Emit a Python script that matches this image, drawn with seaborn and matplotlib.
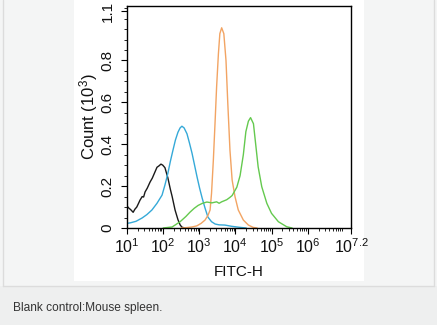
import matplotlib
matplotlib.use("Agg")
import matplotlib.pyplot as plt
from matplotlib.patches import Rectangle
from matplotlib.lines import Line2D
from matplotlib.ticker import FixedLocator, LogLocator, NullFormatter
import numpy as np
import pandas as pd
import seaborn as sns

# FITC-H histogram traces: positions in decades (log10 of intensity), counts in thousands
black_log = [1.00, 1.05, 1.10, 1.17, 1.22, 1.27, 1.32, 1.36, 1.42, 1.46, 1.50, 1.56,
             1.64, 1.70, 1.76, 1.83, 1.88, 1.94, 1.99, 2.05, 2.13, 2.20, 2.25, 2.33,
             2.41, 2.47, 2.52, 2.60, 2.70]
black_cnt = [0.105, 0.095, 0.088, 0.075, 0.090, 0.100, 0.118, 0.133, 0.150, 0.148,
             0.172, 0.190, 0.220, 0.238, 0.262, 0.290, 0.296, 0.305, 0.300, 0.288,
             0.240, 0.185, 0.150, 0.086, 0.040, 0.015, 0.004, 0.0, 0.0]

blue_log = [1.00, 1.10, 1.25, 1.42, 1.55, 1.69, 1.83, 1.97, 2.05, 2.13, 2.20, 2.27,
            2.34, 2.41, 2.47, 2.52, 2.58, 2.66, 2.73, 2.80, 2.87, 2.94, 3.01, 3.08,
            3.16, 3.24, 3.34, 3.44, 3.55, 3.71, 3.90, 4.13, 4.30]
blue_cnt = [0.022, 0.025, 0.032, 0.048, 0.064, 0.086, 0.118, 0.157, 0.205, 0.260,
            0.318, 0.370, 0.420, 0.457, 0.478, 0.486, 0.478, 0.450, 0.405, 0.357,
            0.300, 0.243, 0.190, 0.143, 0.095, 0.052, 0.030, 0.019, 0.015, 0.014,
            0.008, 0.003, 0.0]

orange_log = [2.50, 2.65, 2.80, 2.93, 3.05, 3.16, 3.24, 3.30, 3.34, 3.39, 3.44,
              3.48, 3.53, 3.57, 3.62, 3.68, 3.74, 3.79, 3.85, 3.91, 3.99, 4.08,
              4.22, 4.36, 4.49, 4.60]
orange_cnt = [0.0, 0.002, 0.005, 0.010, 0.022, 0.038, 0.060, 0.086, 0.166, 0.324,
              0.514, 0.673, 0.832, 0.928, 0.956, 0.928, 0.800, 0.595, 0.371, 0.229,
              0.149, 0.086, 0.038, 0.014, 0.003, 0.0]

green_log = [2.00, 2.25, 2.47, 2.63, 2.74, 2.86, 2.97, 3.09, 3.21, 3.35, 3.48,
             3.55, 3.62, 3.69, 3.76, 3.84, 3.91, 4.04, 4.13, 4.22, 4.29, 4.36,
             4.42, 4.50, 4.57, 4.63, 4.73, 4.87, 5.00, 5.19, 5.42, 5.57]
green_cnt = [0.0, 0.005, 0.030, 0.055, 0.075, 0.094, 0.108, 0.118, 0.124, 0.120,
             0.125, 0.118, 0.125, 0.130, 0.135, 0.145, 0.155, 0.195, 0.250, 0.350,
             0.460, 0.510, 0.527, 0.498, 0.387, 0.292, 0.197, 0.118, 0.070, 0.030,
             0.006, 0.0]

trace_colors = {"black": "#1a1a1a", "blue": "#35a9d8",
                "orange": "#f2a463", "green": "#64c94e"}

y_ticks = [0.0, 0.2, 0.4, 0.6, 0.8, 1.035]
y_ticklabels = ["0", "0.2", "0.4", "0.6", "0.8", "1.1"]
x_tick_exp = [1, 2, 3, 4, 5, 6, 7.2]
x_ticklabels = [r"$10^{1}$", r"$10^{2}$", r"$10^{3}$", r"$10^{4}$",
                r"$10^{5}$", r"$10^{6}$", r"$10^{7.2}$"]

frames = []
for name, lg, ct in [("black", black_log, black_cnt), ("blue", blue_log, blue_cnt),
                     ("orange", orange_log, orange_cnt), ("green", green_log, green_cnt)]:
    frames.append(pd.DataFrame({"FITC-H": np.power(10.0, lg), "count": ct, "sample": name}))
df = pd.concat(frames, ignore_index=True)

sns.set_style("ticks")
plt.rcParams["font.family"] = ["Liberation Sans", "DejaVu Sans"]
plt.rcParams["mathtext.fontset"] = "custom"
plt.rcParams["mathtext.rm"] = "Liberation Sans"
plt.rcParams["mathtext.it"] = "Liberation Sans"

W, H = 437, 325
fig = plt.figure(figsize=(W / 100, H / 100), dpi=100, facecolor="#f4f5f5")

def px_rect(x0, y0, x1, y1, **kw):
    fig.patches.append(Rectangle((x0 / W, 1 - y1 / H), (x1 - x0) / W, (y1 - y0) / H,
                                 transform=fig.transFigure, zorder=-10, **kw))

# page background: caption strip, white chart panel, thin borders
px_rect(0, 286, W, H, facecolor="#eeefef", edgecolor="none")
px_rect(74, 0, 364, 281, facecolor="white", edgecolor="none")
for xs, ys in [([3, 3], [0, 286]), ([434, 434], [0, 286]), ([3, 434], [286, 286])]:
    fig.lines.append(Line2D([x / W for x in xs], [1 - y / H for y in ys],
                            transform=fig.transFigure, color="#dcdcdc", lw=1.0, zorder=-5))

ax = fig.add_axes([127 / W, 1 - 228 / H, (351 - 127) / W, (228 - 6) / H])
ax.set_facecolor("white")

sns.lineplot(data=df, x="FITC-H", y="count", hue="sample", palette=trace_colors,
             estimator=None, sort=False, lw=1.0, legend=False, ax=ax)

ax.set_xscale("log")
ax.set_xlim(10 ** 1, 10 ** 7.2)
ax.set_ylim(0, 1.06)

ax.xaxis.set_major_locator(FixedLocator([10 ** e for e in x_tick_exp]))
ax.set_xticklabels(x_ticklabels)
ax.xaxis.set_minor_locator(LogLocator(base=10, subs=np.arange(2, 10), numticks=20))
ax.xaxis.set_minor_formatter(NullFormatter())

ax.set_yticks(y_ticks)
ax.set_yticklabels(y_ticklabels, rotation=90, va="center")
ax.yaxis.set_minor_locator(FixedLocator(np.arange(0, 1.06, 0.05)))

ax.tick_params(axis="both", which="major", length=4, width=0.8, color="black",
               labelcolor="#111111")
ax.tick_params(axis="x", which="major", pad=3, labelsize=11.5)
ax.tick_params(axis="y", which="major", pad=5, labelsize=11)
ax.tick_params(axis="both", which="minor", length=2.2, width=0.6, color="black")

for side in ["left", "bottom", "top", "right"]:
    ax.spines[side].set_visible(True)
    ax.spines[side].set_linewidth(1.0)
    ax.spines[side].set_color("black")

ax.set_xlabel("FITC-H", fontsize=11, color="#111111", labelpad=6)
ax.set_ylabel(r"Count ($10^{3}$)", fontsize=12, color="#111111", labelpad=0)

fig.text(13 / W, 1 - 308 / H, "Blank control:Mouse spleen.", fontsize=8.6,
         color="#333333", va="center", ha="left")

fig.savefig("out.png", dpi=100, facecolor=fig.get_facecolor())
